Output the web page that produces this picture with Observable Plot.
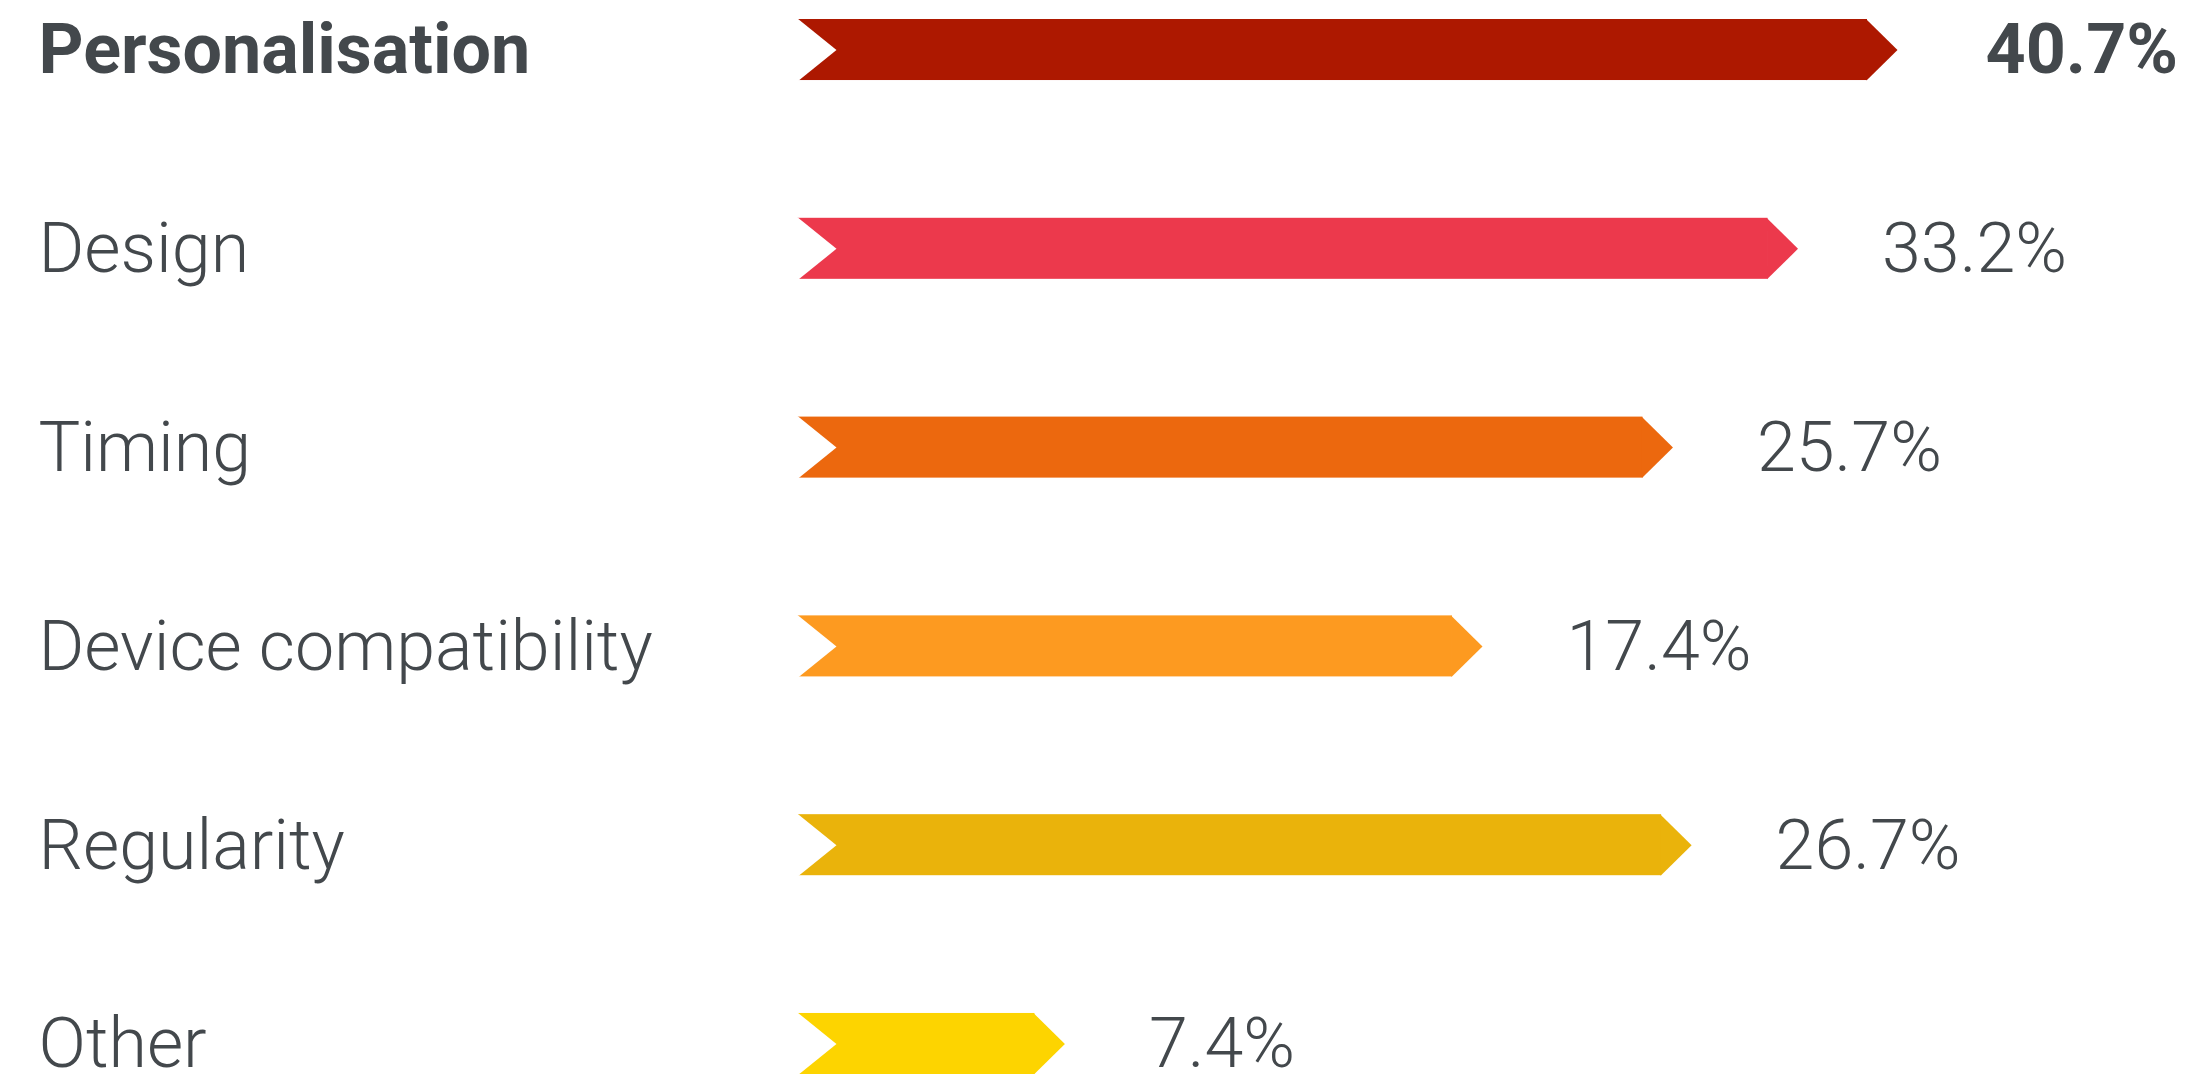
<!DOCTYPE html>
<html>
<head>
<meta charset="utf-8">
<script src="https://cdn.jsdelivr.net/npm/d3@7"></script>
<script src="https://cdn.jsdelivr.net/npm/@observablehq/plot@0.6"></script>
<style>
  html, body { margin: 0; padding: 0; background: #ffffff; overflow: hidden; }
  #chart svg { display: block; }
</style>
</head>
<body>
<div id="chart"></div>
<script>
// ---- data ----
const categories = ["Personalisation", "Design", "Timing", "Device compatibility", "Regularity", "Other"];
const shares = [40.7, 33.2, 25.7, 17.4, 26.7, 7.4];
const highlighted = ["Personalisation"];
const palette = ["#ad1800", "#ec394c", "#ec680e", "#fd9a20", "#eab30b", "#fdd400"];

const data = categories.map((category, i) => ({category, share: shares[i]}));

// ---- layout / style ----
const W = 2198, H = 1074;
const left = 797;        // left edge of the ribbons
const baseline = 4.28;   // origin of the ribbons on the (log) x scale
const half = 30.5;       // half ribbon height in px
const notch = 39;        // depth of the left notch in px
const point = 30;        // depth of the right point in px
const textColor = "#43484c";

const notchSymbol = {
  draw(ctx) {
    ctx.moveTo(-3, -half - 1);
    ctx.lineTo(0, -half - 1);
    ctx.lineTo(notch, 0);
    ctx.lineTo(0, half + 1);
    ctx.lineTo(-3, half + 1);
    ctx.closePath();
  }
};
const pointSymbol = {
  draw(ctx) {
    ctx.moveTo(-point - 1, -half);
    ctx.lineTo(0, 0);
    ctx.lineTo(-point - 1, half);
    ctx.closePath();
  }
};

const fmt = d => d.share.toFixed(1) + "%";
const isHi = d => highlighted.includes(d.category);

const chart = Plot.plot({
  width: W,
  height: H,
  marginLeft: left,
  marginRight: 301,
  marginTop: 19,
  marginBottom: 0,
  x: {type: "log", domain: [baseline, d3.max(shares)], axis: null},
  y: {domain: categories, paddingInner: 0.693, paddingOuter: 0, round: false, axis: null},
  color: {domain: categories, range: palette},
  style: {fontFamily: "Roboto, 'Noto Sans', sans-serif", background: "#ffffff", overflow: "visible"},
  marks: [
    Plot.barX(data, {x1: () => baseline, x2: "share", y: "category", fill: "category", insetRight: point}),
    Plot.dot(data, {x: "share", y: "category", fill: "category", stroke: "none", symbol: pointSymbol}),
    Plot.dot(data, {x: () => baseline, y: "category", fill: "#ffffff", stroke: "none", symbol: notchSymbol}),
    // category labels
    Plot.text(data.filter(d => !isHi(d)), {
      y: "category", text: "category", frameAnchor: "left", textAnchor: "start",
      dx: 38 - left, dy: 1, fontSize: 70, fontWeight: 300, fill: textColor
    }),
    Plot.text(data.filter(isHi), {
      y: "category", text: "category", frameAnchor: "left", textAnchor: "start",
      dx: 38 - left, dy: 1, fontSize: 70, fontWeight: 700, fill: textColor
    }),
    // value labels
    Plot.text(data.filter(d => !isHi(d)), {
      x: "share", y: "category", text: fmt, textAnchor: "start",
      dx: 84, dy: 1, fontSize: 70, fontWeight: 300, fill: textColor
    }),
    Plot.text(data.filter(isHi), {
      x: "share", y: "category", text: fmt, textAnchor: "start",
      dx: 88, dy: 1, fontSize: 70, fontWeight: 700, fill: textColor
    })
  ]
});

document.getElementById("chart").appendChild(chart);
</script>
</body>
</html>
